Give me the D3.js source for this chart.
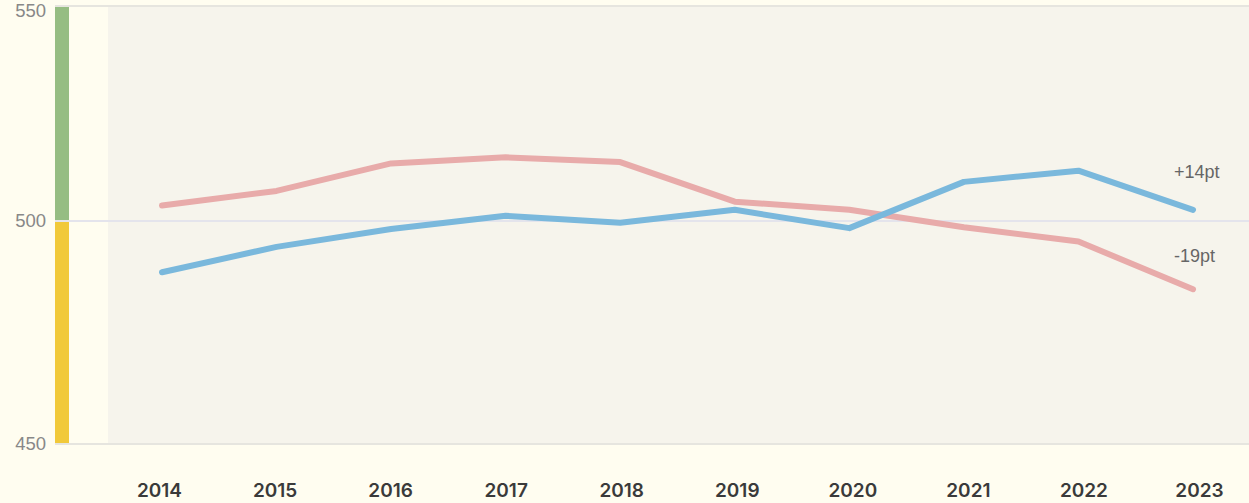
<!DOCTYPE html>
<html>
<head>
<meta charset="utf-8">
<script src="https://cdn.jsdelivr.net/npm/d3@7"></script>
<style>
  html, body { margin: 0; padding: 0; background: #fffdf0; }
  svg { display: block; }
</style>
</head>
<body>
<div id="container"></div>
<script>
const years = [2014, 2015, 2016, 2017, 2018, 2019, 2020, 2021, 2022, 2023]
const redValues = [503.6, 507.0, 513.4, 514.8, 513.7, 504.5, 502.6, 498.6, 495.4, 484.7]
const blueValues = [488.5, 494.2, 498.2, 501.2, 499.6, 502.6, 498.4, 509.1, 511.7, 502.6]
const yTicks = [450, 500, 550]
const endLabels = ["+14pt", "-19pt"]

const w = 1249
const h = 503

const svg = d3.select("#container")
  .append("svg")
  .attr("width", w)
  .attr("height", h)

// polylinear so the 500 line sits where the original puts it
const y = d3.scaleLinear()
  .domain([450, 500, 550])
  .range([444, 221, 6])

const x = d3.scalePoint()
  .domain(years)
  .range([162, 1193])

// the year labels are spread a touch wider than the points
const xLabels = d3.scalePoint()
  .domain(years)
  .range([159, 1199])

// plot background
svg.append("rect")
  .attr("x", 108)
  .attr("y", y(550))
  .attr("width", w - 108)
  .attr("height", y(450) - y(550))
  .attr("fill", "#f6f4ec")

// coloured bar on the left: green above 500, yellow below
svg.append("rect")
  .attr("x", 55)
  .attr("y", y(550) + 1)
  .attr("width", 14)
  .attr("height", y(500) - y(550) - 1)
  .attr("fill", "#96bd83")

svg.append("rect")
  .attr("x", 55)
  .attr("y", y(500) + 1)
  .attr("width", 14)
  .attr("height", y(450) - y(500) - 1)
  .attr("fill", "#f1c93a")

// grid lines
svg.selectAll("line.grid")
  .data(yTicks)
  .enter()
  .append("line")
  .attr("class", "grid")
  .attr("x1", 55)
  .attr("x2", w)
  .attr("y1", (d) => y(d))
  .attr("y2", (d) => y(d))
  .attr("stroke", (d) => d == 500 ? "#e4e4ec" : "#e6e5df")
  .attr("stroke-width", 2)

// y tick labels
svg.selectAll("text.ytick")
  .data(yTicks)
  .enter()
  .append("text")
  .attr("class", "ytick")
  .attr("x", 46)
  .attr("y", (d) => d == 550 ? y(d) + 5 : y(d))
  .attr("dy", "0.35em")
  .attr("text-anchor", "end")
  .attr("font-family", "Liberation Sans, Arial, sans-serif")
  .attr("font-size", 18.5)
  .attr("fill", "#888")
  .text((d) => d)

// x axis labels
const xAxis = d3.axisBottom(xLabels).tickSize(0).tickPadding(0)
const gx = svg.append("g")
  .attr("transform", "translate(0, 483)")
  .call(xAxis)
gx.select(".domain").remove()
gx.selectAll("text")
  .attr("font-family", "Inter, sans-serif")
  .attr("font-weight", 600)
  .attr("font-size", 19)
  .attr("fill", "#3a3a3a")

const line = d3.line()
  .x((d, i) => x(years[i]))
  .y((d) => y(d))

svg.append("path")
  .datum(redValues)
  .attr("d", line)
  .attr("fill", "none")
  .attr("stroke", "#e8abaa")
  .attr("stroke-width", 6)
  .attr("stroke-linecap", "round")
  .attr("stroke-linejoin", "round")

svg.append("path")
  .datum(blueValues)
  .attr("d", line)
  .attr("fill", "none")
  .attr("stroke", "#7ab8dc")
  .attr("stroke-width", 6)
  .attr("stroke-linecap", "round")
  .attr("stroke-linejoin", "round")

// change labels at the end of each line
const lastX = x(years[years.length - 1])
svg.append("text")
  .attr("x", lastX - 19)
  .attr("y", y(blueValues[9]) - 38)
  .attr("dy", "0.35em")
  .attr("font-family", "Liberation Sans, Arial, sans-serif")
  .attr("font-size", 18)
  .attr("fill", "#666")
  .text(endLabels[0])

svg.append("text")
  .attr("x", lastX - 19)
  .attr("y", y(redValues[9]) - 34)
  .attr("dy", "0.35em")
  .attr("font-family", "Liberation Sans, Arial, sans-serif")
  .attr("font-size", 18)
  .attr("fill", "#666")
  .text(endLabels[1])
</script>
</body>
</html>
